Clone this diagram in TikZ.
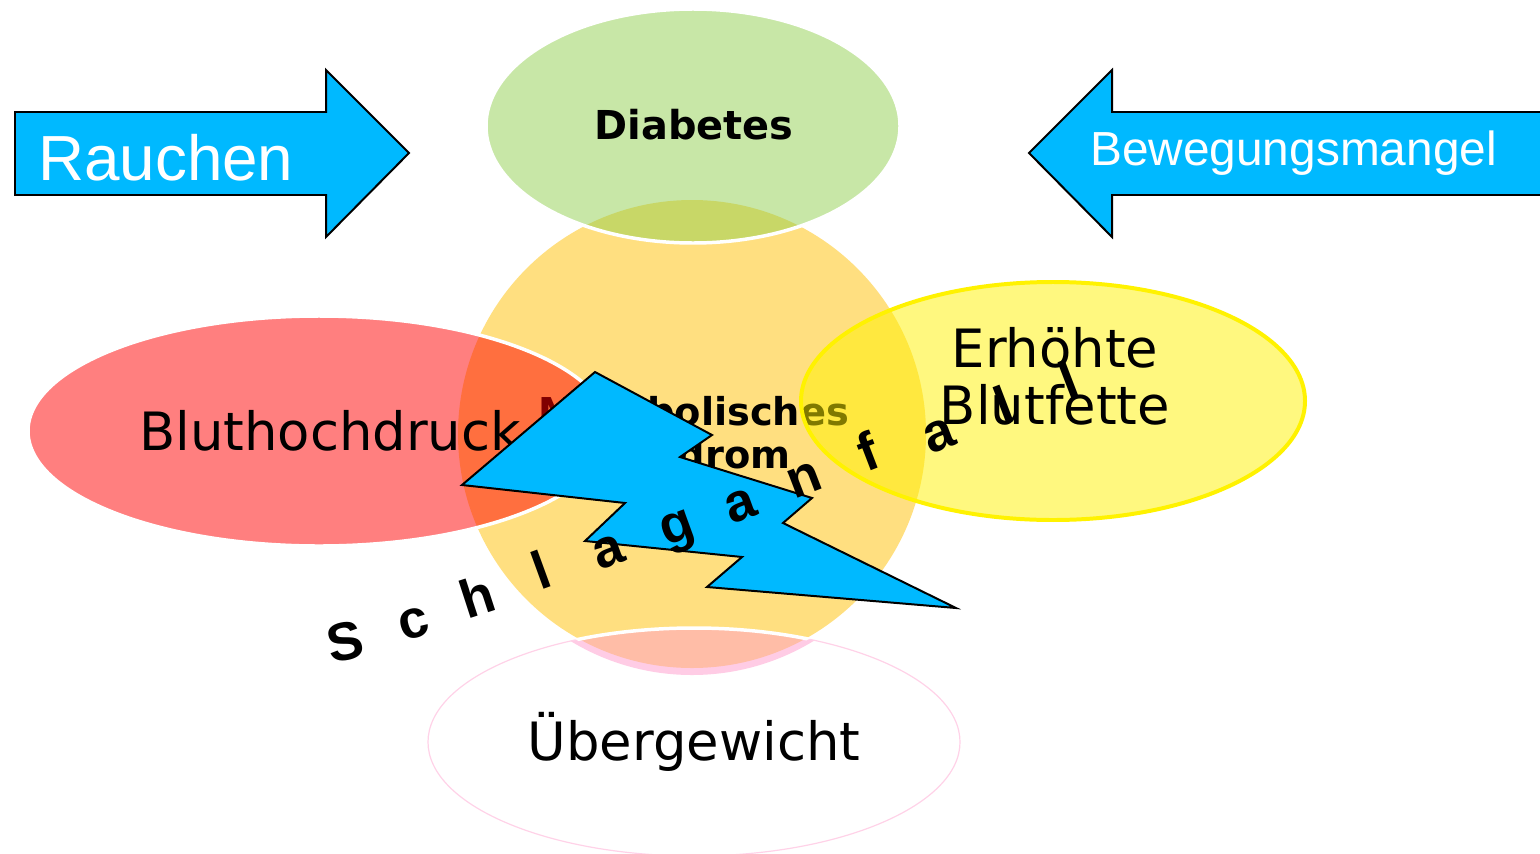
\documentclass[tikz,border=0pt]{standalone}
\usepackage{fontspec}
\setmainfont{DejaVu Sans}
\newfontfamily\arialfont{Liberation Sans}
\definecolor{orangeC}{HTML}{FFDF80}
\definecolor{greenC}{HTML}{92D050}
\definecolor{boltC}{HTML}{00B9FF}
\definecolor{salmonC}{HTML}{FFBDA7}
\definecolor{pinkC}{HTML}{FFCCE5}
\definecolor{pinkLine}{HTML}{FFD2E8}
\tikzset{
  arrowshape/.style={fill=boltC,draw=black,line width=2,line join=miter},
  arrowtext/.style={text=white,font=\arialfont,anchor=base west,inner sep=0},
  bigtext/.style={font=\fontsize{53}{56}\selectfont,anchor=base,inner sep=0},
  metabtext/.style={font=\bfseries\fontsize{38.5}{42}\selectfont,anchor=base,inner sep=0},
  letter/.style={font=\arialfont\bfseries\fontsize{54}{54}\selectfont,anchor=base,inner sep=0},
  boltshape/.style={fill=boltC,draw=black,line width=2,line join=miter},
}
\begin{document}
\begin{tikzpicture}[x=1bp,y=-1bp]
\useasboundingbox (0,0) rectangle (1540,853);
\fill[white] (0,0) rectangle (1540,853);

% Metabolisches Syndrom circle
\fill[orangeC] (692,434) circle[radius=234];
\node[metabtext] (metab1) at (694,425) {Metabolisches};
\node[metabtext] (metab2) at (694,468) {Syndrom};

% Uebergewicht overlap
\begin{scope}
  \clip (694,742) ellipse[x radius=266,y radius=114];
  \fill[pinkC] (692,441) circle[radius=234];
  \fill[salmonC] (692,434) circle[radius=234];
\end{scope}
\draw[pinkLine,line width=1.2] (694,742) ellipse[x radius=266,y radius=114];
\begin{scope}
  \clip (692,434) circle[radius=236];
  \draw[white,line width=3.5] (694,742) ellipse[x radius=266,y radius=114];
\end{scope}
\node[bigtext] (ueber) at (694,760) {Übergewicht};

% Diabetes
\path[fill=greenC,fill opacity=0.5,draw=white,line width=3.5] (693,126) ellipse[x radius=207,y radius=117];
\node[font=\bfseries\fontsize{40}{44}\selectfont,anchor=base,inner sep=0] (diab) at (694,139) {Diabetes};

% Bluthochdruck
\path[fill=red,fill opacity=0.5,draw=white,line width=3.5] (319,431) ellipse[x radius=291,y radius=115];
\node[bigtext] (blut) at (330,450) {Bluthochdruck};

% Erhoehte Blutfette
\path[fill=yellow,fill opacity=0.5,draw=yellow,line width=4] (1053,401) ellipse[x radius=252,y radius=119];
\node[bigtext] (erh1) at (1055,367) {Erhöhte};
\node[bigtext] (erh2) at (1055,424) {Blutfette};

% Arrows
\draw[arrowshape] (15,112) -- (326,112) -- (326,70) -- (409,153) -- (326,237) -- (326,195) -- (15,195) -- cycle;
\node[arrowtext,font=\arialfont\fontsize{64}{64}\selectfont] (rauch) at (38,180) {Rauchen};
\draw[arrowshape] (1548,112) -- (1112,112) -- (1112,70) -- (1029,153) -- (1112,237) -- (1112,195) -- (1548,195);
\node[arrowtext,font=\arialfont\fontsize{48}{48}\selectfont] (beweg) at (1090,165) {Bewegungsmangel};

% Lightning bolt
\draw[boltshape] (595,372) -- (712,435) -- (680,457) -- (812,498) -- (783,523)
  -- (956,608) -- (707,587) -- (742,557) -- (585,541) -- (625,503) -- (462,485) -- cycle;

% Schlaganfall
\node[letter,rotate=12] (s1) at (349,660) {S};
\node[letter,rotate=16] (s2) at (418,637) {c};
\node[letter,rotate=18] (s3) at (483,614) {h};
\node[letter,rotate=20] (s4) at (548,588) {l};
\node[letter,rotate=20] (s5) at (614,565) {a};
\node[letter,rotate=20] (s6) at (682,541) {g};
\node[letter,rotate=20] (s7) at (746,519) {a};
\node[letter,rotate=21] (s8) at (810,494) {n};
\node[letter,rotate=21] (s9) at (875,469) {f};
\node[letter,rotate=21] (s10) at (944,449) {a};
\node[letter,rotate=21] (s11) at (1010,423) {l};
\node[letter,rotate=21] (s12) at (1075,398) {l};
\end{tikzpicture}
\end{document}
